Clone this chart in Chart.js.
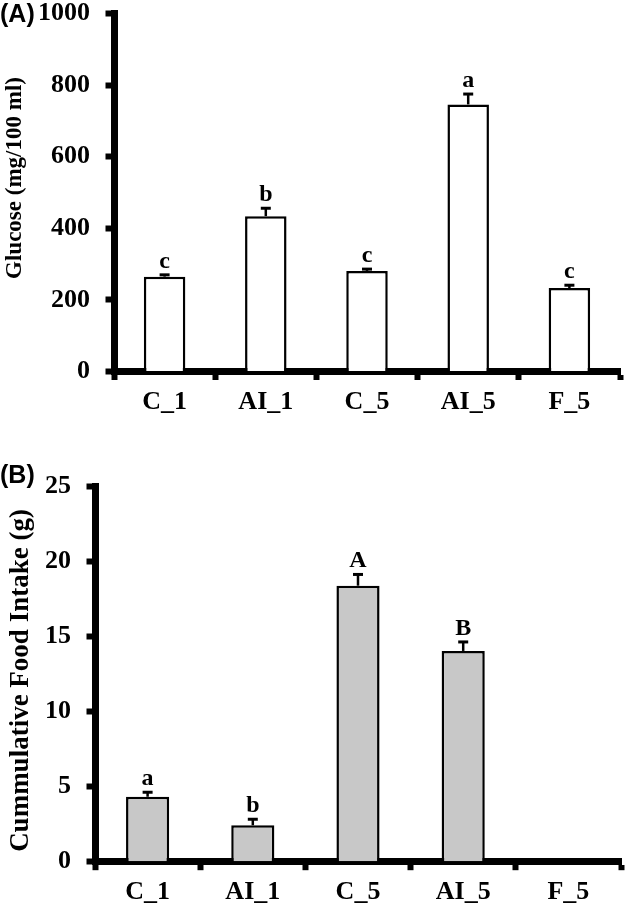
<!DOCTYPE html>
<html>
<head>
<meta charset="utf-8">
<script src="https://cdn.jsdelivr.net/npm/chart.js@4"></script>
<style>
  body { margin: 0; background: #fff; }
  canvas { position: absolute; left: 0; }
  #chartA { top: 0; }
  #chartB { top: 460px; }
</style>
</head>
<body>
<canvas id="chartA" width="626" height="440"></canvas>
<canvas id="chartB" width="626" height="448"></canvas>
<script>
const categories = ['C_1', 'AI_1', 'C_5', 'AI_5', 'F_5'];

const glucose = [265, 434, 281, 746, 233];
const glucoseErr = [5, 22, 5, 29, 8];
const glucoseLetters = ['c', 'b', 'c', 'a', 'c'];
const glucoseTicks = [0, 200, 400, 600, 800, 1000];

const intake = [4.33, 2.43, 18.4, 14.05, null];
const intakeErr = [0.3, 0.4, 0.75, 0.6, null];
const intakeLetters = ['a', 'b', 'A', 'B', ''];
const intakeTicks = [0, 5, 10, 15, 20, 25];

const serif = '"Liberation Serif", "Times New Roman", serif';

// error bars, letters, axis title and panel tag
const annotate = {
  id: 'annotate',
  afterDraw(chart, args, opts) {
    const ctx = chart.ctx;
    const x = chart.scales.x, y = chart.scales.y;
    ctx.save();
    ctx.strokeStyle = '#000';
    ctx.fillStyle = '#000';
    opts.values.forEach((v, i) => {
      if (v == null) return;
      const cx = x.getPixelForValue(i);
      const y0 = y.getPixelForValue(v);
      const y1 = y.getPixelForValue(v + opts.errors[i]);
      ctx.lineWidth = 2.5;
      ctx.beginPath();
      ctx.moveTo(cx, y0);
      ctx.lineTo(cx, y1);
      ctx.stroke();
      ctx.lineWidth = 3;
      ctx.beginPath();
      ctx.moveTo(cx - 5, y1);
      ctx.lineTo(cx + 5, y1);
      ctx.stroke();
      ctx.font = 'bold 24px ' + serif;
      ctx.textAlign = 'center';
      ctx.textBaseline = 'alphabetic';
      ctx.fillText(opts.letters[i], cx, y1 - 7);
    });

    ctx.save();
    ctx.translate(opts.titleX, opts.titleY);
    ctx.rotate(-Math.PI / 2);
    ctx.font = 'bold ' + opts.titleSize + 'px ' + serif;
    ctx.textAlign = 'center';
    ctx.textBaseline = 'middle';
    ctx.fillText(opts.title, 0, 0);
    ctx.restore();

    ctx.font = 'bold 25px "Liberation Sans", Arial, sans-serif';
    ctx.textAlign = 'left';
    ctx.textBaseline = 'alphabetic';
    ctx.fillText(opts.tag, 0, opts.tagY);
    ctx.restore();
  }
};

function makeChart(id, cfg) {
  return new Chart(document.getElementById(id), {
    type: 'bar',
    data: {
      labels: categories,
      datasets: [{
        data: cfg.values,
        backgroundColor: cfg.fill,
        borderColor: '#000',
        borderWidth: 2.5,
        categoryPercentage: 1,
        barPercentage: 0.41
      }]
    },
    options: {
      responsive: false,
      animation: false,
      layout: { padding: { top: cfg.top, right: cfg.right, left: 0, bottom: 0 } },
      plugins: {
        legend: { display: false },
        tooltip: { enabled: false },
        annotate: {
          values: cfg.values, errors: cfg.errors, letters: cfg.letters,
          title: cfg.title, titleSize: cfg.titleSize, titleX: cfg.titleX, titleY: cfg.titleY,
          tag: cfg.tag, tagY: cfg.tagY
        }
      },
      scales: {
        x: {
          z: 1,
          offset: true,
          grid: { offset: true, drawOnChartArea: false, drawTicks: true, tickLength: 8.5, tickWidth: 6, tickColor: '#000' },
          border: { display: true, width: 7, color: '#000' },
          ticks: { color: '#000', padding: 9, font: { family: serif, size: 26, weight: 'bold', lineHeight: 1 } },
          afterFit(scale) { scale.height = cfg.xHeight; }
        },
        y: {
          z: 1,
          min: cfg.ticks[0],
          max: cfg.ticks[cfg.ticks.length - 1],
          afterBuildTicks(scale) { scale.ticks = cfg.ticks.map(v => ({ value: v })); },
          grid: { drawOnChartArea: false, drawTicks: true, tickLength: 8.5, tickWidth: 6, tickColor: '#000' },
          border: { display: true, width: 7, color: '#000' },
          ticks: {
            color: '#000', padding: 15.5,
            font: { family: serif, size: 26, weight: 'bold', lineHeight: 1 },
            callback: v => String(v)
          },
          afterFit(scale) {
            scale.width = cfg.yWidth;
            scale.paddingTop = 0;
            scale.paddingBottom = 0;
          }
        }
      }
    },
    plugins: [annotate]
  });
}

makeChart('chartA', {
  values: glucose, errors: glucoseErr, letters: glucoseLetters, ticks: glucoseTicks,
  fill: '#ffffff', top: 13.5, right: 6, yWidth: 114, xHeight: 68.5,
  title: 'Glucose (mg/100 ml)', titleSize: 23, titleX: 15, titleY: 178,
  tag: '(A)', tagY: 21.5
});

makeChart('chartB', {
  values: intake, errors: intakeErr, letters: intakeLetters, ticks: intakeTicks,
  fill: '#c8c8c8', top: 26.7, right: 5, yWidth: 95, xHeight: 46.3,
  title: 'Cummulative Food Intake (g)', titleSize: 27, titleX: 21, titleY: 220.5,
  tag: '(B)', tagY: 23
});
</script>
</body>
</html>
